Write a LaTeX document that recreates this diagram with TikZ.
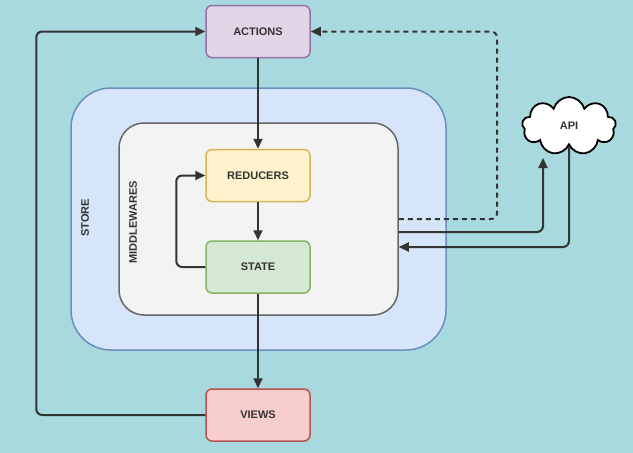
\documentclass[tikz,border=0pt]{standalone}
\usepackage{fontspec}
\setmainfont{Liberation Sans}
\usetikzlibrary{arrows.meta,shapes.symbols,positioning}

\definecolor{bgteal}{HTML}{A7D9DE}
\definecolor{inkgray}{HTML}{333333}
\definecolor{storefill}{HTML}{D6E5FA}
\definecolor{storeline}{HTML}{6C8EBF}
\definecolor{mwfill}{HTML}{F3F3F3}
\definecolor{mwline}{HTML}{666666}
\definecolor{actfill}{HTML}{E1D5E7}
\definecolor{actline}{HTML}{9673A6}
\definecolor{redfill}{HTML}{FFF2CC}
\definecolor{redline}{HTML}{D6B656}
\definecolor{stfill}{HTML}{D5E8D4}
\definecolor{stline}{HTML}{82B366}
\definecolor{viewfill}{HTML}{F8CECC}
\definecolor{viewline}{HTML}{B85450}

\tikzset{
  box/.style={draw, rounded corners=6pt, line width=1.5pt,
    minimum width=104pt, minimum height=52pt,
    font=\bfseries\fontsize{11}{13}\selectfont, text=inkgray},
  region/.style={draw, line width=1.5pt},
  tag/.style={rotate=90, font=\bfseries\fontsize{11}{13}\selectfont, text=inkgray},
  link/.style={line width=2pt, draw=inkgray, rounded corners=6pt,
    -{Triangle[length=10pt,width=9pt]}},
}

\begin{document}
\begin{tikzpicture}[x=1pt,y=-1pt]
    \useasboundingbox (0,0) rectangle (633,453);
    \fill[bgteal] (0,0) rectangle (633,453);
    % containers
    \node[region, fill=storefill, draw=storeline, rounded corners=40pt,
      minimum width=375pt, minimum height=262pt] (store) at (258.5,219) {};
    \node[region, fill=mwfill, draw=mwline, rounded corners=25pt,
      minimum width=279pt, minimum height=192pt] (mw) at (258.5,219) {};
    \node[tag] (storetag) at (85,218) {STORE};
    \node[tag] (mwtag) at (133,222) {MIDDLEWARES};
    % boxes
    \node[box, fill=actfill, draw=actline] (actions) at (258,31.5) {ACTIONS};
    \node[box, fill=redfill, draw=redline] (reducers) at (258,175.5) {REDUCERS};
    \node[box, fill=stfill, draw=stline] (state) at (258,267) {STATE};
    \node[box, fill=viewfill, draw=viewline] (views) at (258,415) {VIEWS};
    \node[cloud, cloud puffs=9, aspect=1.7, draw=black, fill=white, line width=1.8pt,
      minimum width=94pt, minimum height=58pt, inner sep=0pt,
      font=\bfseries\fontsize{11}{13}\selectfont, text=inkgray] (api) at (569,126) {API};
    \coordinate (dashturn) at (497,31.5);
    \coordinate (apiin) at (543,158);
    % connectors
    \draw[link] (actions) -- (reducers);
    \draw[link] (reducers) -- (state);
    \draw[link] (state.west) -- ++(-29,0) |- (reducers.west);
    \draw[link] (state) -- (views);
    \draw[link] (views.west) -- ++(-169,0) |- (actions.west);
    \draw[link, dash pattern=on 5pt off 4pt] (mw.east) -| (dashturn) -- (actions.east);
    \draw[link] ([yshift=-13pt]mw.east) -| (apiin);
    \draw[link] (api.south) |- ([yshift=-28pt]mw.east);
\end{tikzpicture}
\end{document}
